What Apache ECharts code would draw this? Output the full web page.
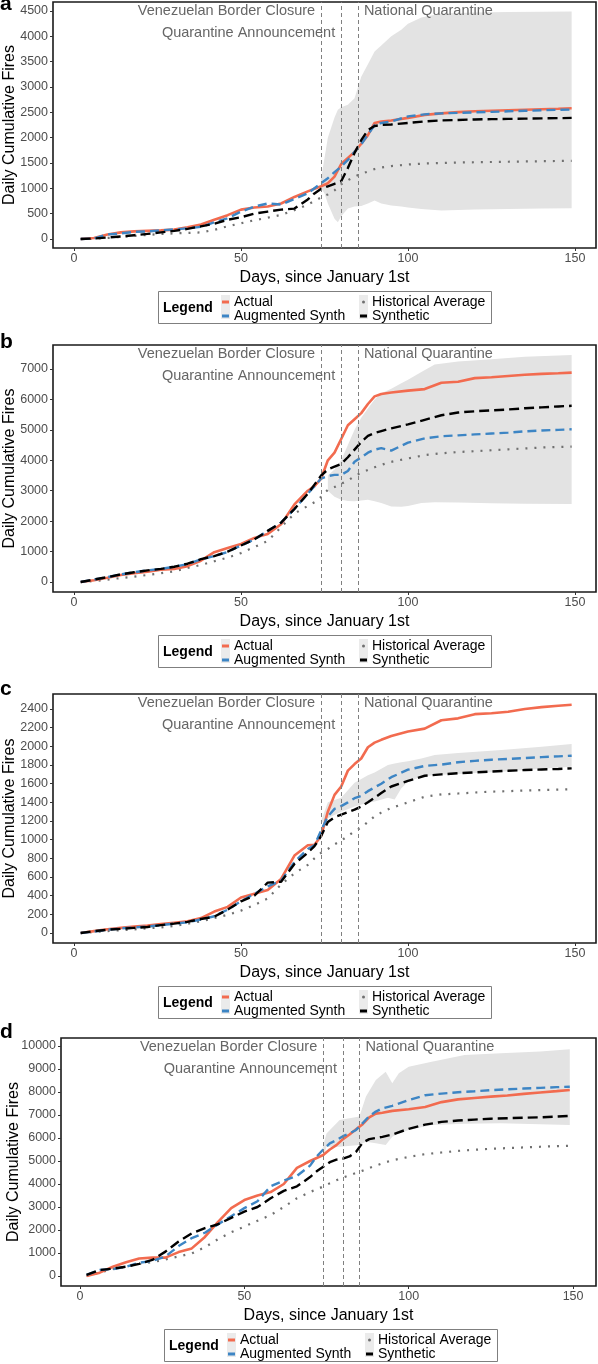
<!DOCTYPE html>
<html><head><meta charset="utf-8">
<script src="https://cdn.jsdelivr.net/npm/echarts@6/dist/echarts.min.js"></script>
<style>html,body{margin:0;padding:0;background:#fff}#c{width:598px;height:1364px}</style>
</head><body><div id="c"></div>
<script>
// ---------- DATA ----------
const days = [2,6,10,14,18,22,26,30,34,38,42,46,50,54,58,62,66,70,72,74,76,78,80,82,84,86,88,90,92,95,100,105,110,115,120,125,130,135,140,145,149];
const eventDays = [74, 80, 85];
const eventLabels = ['Venezuelan Border Closure', 'Quarantine Announcement', 'National Quarantine'];
const xTicks = [0, 50, 100, 150];

// Panel a
const actualA = [0,20,90,130,150,160,170,185,230,285,380,470,580,620,640,700,830,940,990,1040,1100,1230,1480,1600,1720,1880,2050,2290,2320,2340,2390,2450,2480,2505,2520,2530,2540,2550,2560,2570,2580];
const augA    = [0,10,90,110,140,150,170,190,210,240,330,410,540,640,700,680,790,900,1000,1100,1200,1320,1430,1560,1720,1870,2060,2250,2290,2320,2420,2460,2480,2490,2500,2510,2520,2530,2540,2550,2555];
const synA    = [0,10,30,50,75,100,130,160,200,250,300,380,430,500,540,580,600,780,900,990,1040,1090,1140,1400,1700,1950,2150,2230,2250,2260,2290,2320,2340,2350,2360,2365,2370,2375,2380,2385,2390];
const histA   = [0,5,20,40,60,80,100,110,120,130,180,250,310,370,420,475,570,680,750,820,880,960,1080,1160,1230,1290,1330,1380,1410,1440,1470,1490,1500,1510,1515,1520,1525,1530,1535,1540,1540];
const bandDaysA = [74,75,76,78,79,80,82,84,86,88,90,92,95,98,100,104,110,120,130,140,149];
const bandLoA   = [1000,900,700,400,330,450,600,640,650,700,760,700,660,640,620,590,560,580,590,600,605];
const bandHiA   = [1200,1600,2000,2400,2550,2600,2650,2780,3200,3450,3700,3820,4000,4130,4250,4370,4450,4470,4480,4485,4490];
const yTicksA = [0,500,1000,1500,2000,2500,3000,3500,4000,4500];

// Panel b
const actualB = [0,60,140,230,285,340,400,430,520,700,980,1120,1250,1450,1580,1900,2550,3000,3150,3400,4000,4250,4700,5150,5350,5550,5850,6100,6180,6230,6290,6340,6550,6580,6700,6730,6770,6810,6840,6860,6880];
const augB    = [0,80,160,250,320,380,430,500,590,740,850,990,1200,1400,1680,1950,2400,2900,3150,3400,3480,3520,3520,3650,3950,4100,4250,4350,4400,4320,4580,4720,4790,4820,4850,4880,4910,4950,4980,5000,5020];
const synB    = [0,80,160,250,320,380,430,500,600,750,850,1000,1200,1400,1680,1950,2400,2900,3200,3500,3700,3790,3880,4100,4350,4600,4800,4900,4960,5050,5180,5330,5480,5570,5610,5640,5670,5710,5740,5770,5790];
const histB   = [0,30,80,130,175,230,290,350,460,560,680,800,950,1150,1350,1800,2250,2500,2620,2800,3030,3120,3230,3330,3480,3590,3680,3770,3850,3950,4060,4170,4230,4270,4300,4330,4360,4390,4420,4440,4450];
const bandDaysB = [76,78,80,82,84,86,88,90,92,95,98,100,104,108,115,125,135,149];
const bandLoB   = [3000,2800,2700,2660,2650,2680,2700,2650,2600,2480,2470,2500,2600,2620,2610,2590,2575,2560];
const bandHiB   = [3500,3700,4000,4500,5000,5400,5700,6000,6200,6350,6530,6650,6900,7150,7250,7320,7400,7460];
const yTicksB = [0,1000,2000,3000,4000,5000,6000,7000];

// Panel c
const actualC = [0,20,40,55,68,80,95,110,125,160,230,280,380,420,460,580,830,940,945,1040,1300,1480,1570,1740,1810,1870,1990,2040,2070,2110,2160,2190,2280,2300,2345,2355,2370,2400,2420,2435,2445];
const augC    = [0,15,35,50,60,70,85,100,115,145,180,250,340,420,500,560,760,900,940,1100,1250,1330,1360,1400,1445,1470,1520,1560,1600,1670,1750,1790,1805,1830,1845,1857,1865,1875,1885,1893,1900];
const synC    = [0,20,35,45,55,65,85,100,120,150,175,250,340,400,540,550,740,860,930,1040,1190,1240,1268,1295,1322,1355,1400,1450,1500,1570,1630,1685,1700,1712,1722,1730,1738,1746,1752,1758,1764];
const histC   = [0,10,20,30,39,50,60,75,100,125,160,195,240,300,370,520,640,730,800,860,900,950,990,1040,1090,1130,1190,1250,1290,1340,1400,1460,1485,1495,1505,1515,1520,1527,1532,1537,1540];
const bandDaysC = [74,76,80,84,88,90,94,96,98,100,104,108,115,128,140,149];
const bandLoC   = [1180,1230,1300,1355,1395,1410,1450,1430,1550,1620,1675,1693,1705,1728,1760,1782];
const bandHiC   = [1200,1400,1450,1610,1690,1720,1800,1815,1830,1840,1871,1907,1930,1961,1995,2025];
const yTicksC = [0,200,400,600,800,1000,1200,1400,1600,1800,2000,2200,2400];

// Panel d
const actualD = [0,145,400,600,760,800,800,1040,1200,1700,2350,2950,3300,3500,3650,4000,4700,5000,5130,5260,5500,5690,5950,6150,6380,6600,6900,7060,7100,7180,7250,7350,7560,7680,7740,7800,7850,7920,7980,8040,8090];
const augD    = [50,260,300,400,580,650,850,1300,1650,1880,2250,2600,2950,3250,3900,4150,4350,4800,5200,5500,5770,5900,6080,6200,6350,6650,6950,7150,7290,7400,7650,7860,7930,7990,8030,8080,8120,8150,8180,8210,8230];
const synD    = [50,260,320,406,530,700,1060,1500,1850,2080,2250,2530,2800,3000,3380,3700,3900,4300,4550,4750,4950,5060,5100,5200,5400,5800,5950,6000,6050,6150,6400,6580,6700,6760,6800,6840,6860,6880,6900,6930,6960];
const histD   = [0,150,300,400,520,600,720,850,980,1250,1600,1900,2150,2400,2650,3000,3380,3650,3770,3890,4030,4160,4280,4380,4480,4580,4690,4800,4900,5030,5180,5300,5370,5440,5490,5530,5560,5590,5620,5645,5660];
const bandDaysD = [74,75,79,85,87,90,93,95,97,100,107,117,128,140,149];
const bandLoD   = [5100,5620,5620,5700,5840,5770,5700,6050,6200,6350,6565,6620,6640,6600,6565];
const bandHiD   = [5700,6200,6780,6930,7800,8520,8880,8380,8810,9100,9320,9610,9680,9760,9855];
const yTicksD = [0,1000,2000,3000,4000,5000,6000,7000,8000,9000,10000];

// ---------- LAYOUT ----------
const FONT = 'Liberation Sans, Arial, Helvetica, sans-serif';
const panels = [
  {letter:'a', act:actualA, aug:augA, syn:synA, hist:histA, bd:bandDaysA, lo:bandLoA, hi:bandHiA, yt:yTicksA,
   grid:{left:53, top:2, width:543, height:246}, xr:[-6.29,156.29], yr:[-178,4678], nameGap:35, leg:{x:158,y:291}, letterY:6},
  {letter:'b', act:actualB, aug:augB, syn:synB, hist:histB, bd:bandDaysB, lo:bandLoB, hi:bandHiB, yt:yTicksB,
   grid:{left:53, top:345, width:543, height:247}, xr:[-6.29,156.29], yr:[-329,7789], nameGap:35, leg:{x:158,y:635}, letterY:344},
  {letter:'c', act:actualC, aug:augC, syn:synC, hist:histC, bd:bandDaysC, lo:bandLoC, hi:bandHiC, yt:yTicksC,
   grid:{left:53, top:694, width:543, height:249}, xr:[-6.29,156.29], yr:[-107,2561], nameGap:35, leg:{x:158,y:986}, letterY:691},
  {letter:'d', act:actualD, aug:augD, syn:synD, hist:histD, bd:bandDaysD, lo:bandLoD, hi:bandHiD, yt:yTicksD,
   grid:{left:61, top:1038, width:535, height:248}, xr:[-5.78,156.98], yr:[-435,10348], nameGap:39, leg:{x:164,y:1329}, letterY:1034}
];
const COL = {act:'#f26b4f', aug:'#3d85c4', syn:'#000000', hist:'#707070', band:'#e3e3e3'};

const pairs = (xs, ys) => xs.map((x, i) => [x, ys[i]]);

const grids = [], xAxes = [], yAxes = [], series = [], legends = [];
panels.forEach((p, i) => {
  grids.push(Object.assign({show:true, borderColor:'#1a1a1a', borderWidth:1.6, backgroundColor:'transparent',
    containLabel:false, outerBoundsMode:'none'}, p.grid));
  xAxes.push({type:'value', gridIndex:i, min:p.xr[0], max:p.xr[1],
    name:'Days, since January 1st', nameLocation:'middle', nameGap:22, nameMoveOverlap:false,
    nameTextStyle:{fontFamily:FONT, fontSize:16, color:'#000'},
    axisLine:{show:false, onZero:false}, splitLine:{show:false},
    axisTick:{show:true, length:3, lineStyle:{color:'#333'}, customValues:xTicks},
    axisLabel:{fontFamily:FONT, fontSize:12.5, color:'#4d4d4d', margin:4, customValues:xTicks, formatter:v => String(v)}});
  yAxes.push({type:'value', gridIndex:i, min:p.yr[0], max:p.yr[1],
    name:'Daily Cumulative Fires', nameLocation:'middle', nameGap:p.nameGap, nameRotate:90, nameMoveOverlap:false,
    nameTextStyle:{fontFamily:FONT, fontSize:16, color:'#000'},
    axisLine:{show:false, onZero:false}, splitLine:{show:false},
    axisTick:{show:true, length:3, lineStyle:{color:'#333'}, customValues:p.yt},
    axisLabel:{fontFamily:FONT, fontSize:12.5, color:'#4d4d4d', margin:5, customValues:p.yt, formatter:v => String(v)}});
  const base = {type:'line', xAxisIndex:i, yAxisIndex:i, symbol:'none', silent:true, animation:false};
  const bandData = p.bd.map((d, k) => [d, p.lo[k], p.hi[k]]);
  series.push({type:'custom', name:'band_' + i, xAxisIndex:i, yAxisIndex:i, silent:true, animation:false,
    encode:{x:0, y:[1, 2]}, data:bandData,
    renderItem:(params, api) => {
      if (params.dataIndex !== 0) return null;
      const upper = bandData.map(r => api.coord([r[0], r[2]]));
      const lower = bandData.map(r => api.coord([r[0], r[1]])).reverse();
      return {type:'polygon', shape:{points:upper.concat(lower)}, style:{fill:COL.band}};
    }});
  series.push(Object.assign({}, base, {name:'Historical Average', data:pairs(days, p.hist), color:COL.hist,
    lineStyle:{color:COL.hist, width:2.2, type:[2,7]},
    markLine:{silent:true, symbol:['none','none'], label:{show:false},
      lineStyle:{color:'#808080', width:1, type:[4,3]},
      data:eventDays.map(d => ({xAxis:d}))}}));
  series.push(Object.assign({}, base, {name:'Actual', data:pairs(days, p.act), color:COL.act,
    lineStyle:{color:COL.act, width:2.6}}));
  series.push(Object.assign({}, base, {name:'Augmented Synth', data:pairs(days, p.aug), color:COL.aug,
    lineStyle:{color:COL.aug, width:2.4, type:[9,5]}}));
  series.push(Object.assign({}, base, {name:'Synthetic', data:pairs(days, p.syn), color:COL.syn,
    lineStyle:{color:COL.syn, width:2.4, type:[10,5]}}));
  const lcommon = {orient:'vertical', top:p.leg.y + 4, itemWidth:7, itemHeight:3, itemGap:0, padding:0,
    selectedMode:false, textStyle:{fontFamily:FONT, fontSize:14, color:'#000', lineHeight:12}};
  legends.push(Object.assign({}, lcommon, {left:p.leg.x + 64, data:[
    {name:'Actual', icon:'rect', itemStyle:{color:COL.act}},
    {name:'Augmented Synth', icon:'rect', itemStyle:{color:COL.aug}}]}));
  legends.push(Object.assign({}, lcommon, {left:p.leg.x + 202, data:[
    {name:'Historical Average', icon:'circle', itemStyle:{color:COL.hist}},
    {name:'Synthetic', icon:'rect', itemStyle:{color:COL.syn}}]}));
});

const chart = echarts.init(document.getElementById('c'), null, {renderer:'canvas'});
chart.setOption({animation:false, backgroundColor:'#fff', grid:grids, xAxis:xAxes, yAxis:yAxes, series:series, legend:legends});

// ---------- ANNOTATIONS / FRAMES ----------
const graphics = [];
panels.forEach((p, i) => {
  graphics.push({type:'text', left:0, top:p.letterY - 12, z:10,
    style:{text:p.letter, font:'bold 21px ' + FONT, fill:'#000'}});
  const px = eventDays.map(d => chart.convertToPixel({xAxisIndex:i}, d));
  const gt = p.grid.top;
  graphics.push({type:'text', z:10, x:px[0] - 6, y:gt + 9,
    style:{text:eventLabels[0], font:'14.5px ' + FONT, fill:'#666', align:'right', verticalAlign:'middle'}});
  graphics.push({type:'text', z:10, x:px[1] - 6, y:gt + 31,
    style:{text:eventLabels[1], font:'14.5px ' + FONT, fill:'#666', align:'right', verticalAlign:'middle'}});
  graphics.push({type:'text', z:10, x:px[2] + 6, y:gt + 9,
    style:{text:eventLabels[2], font:'14.5px ' + FONT, fill:'#666', align:'left', verticalAlign:'middle'}});
  graphics.push({type:'rect', z:0, shape:{x:p.leg.x + 0.5, y:p.leg.y + 0.5, width:333, height:32},
    style:{fill:'#fff', stroke:'#7f7f7f', lineWidth:1}});
  graphics.push({type:'text', z:1, x:p.leg.x + 5, y:p.leg.y + 17,
    style:{text:'Legend', font:'bold 14px ' + FONT, fill:'#000', verticalAlign:'middle'}});
  graphics.push({type:'rect', z:1, shape:{x:p.leg.x + 63, y:p.leg.y + 4, width:9, height:24}, style:{fill:'#ebebeb'}});
  graphics.push({type:'rect', z:1, shape:{x:p.leg.x + 201, y:p.leg.y + 4, width:9, height:24}, style:{fill:'#ebebeb'}});
});
chart.setOption({graphic:graphics});
</script>
</body></html>
